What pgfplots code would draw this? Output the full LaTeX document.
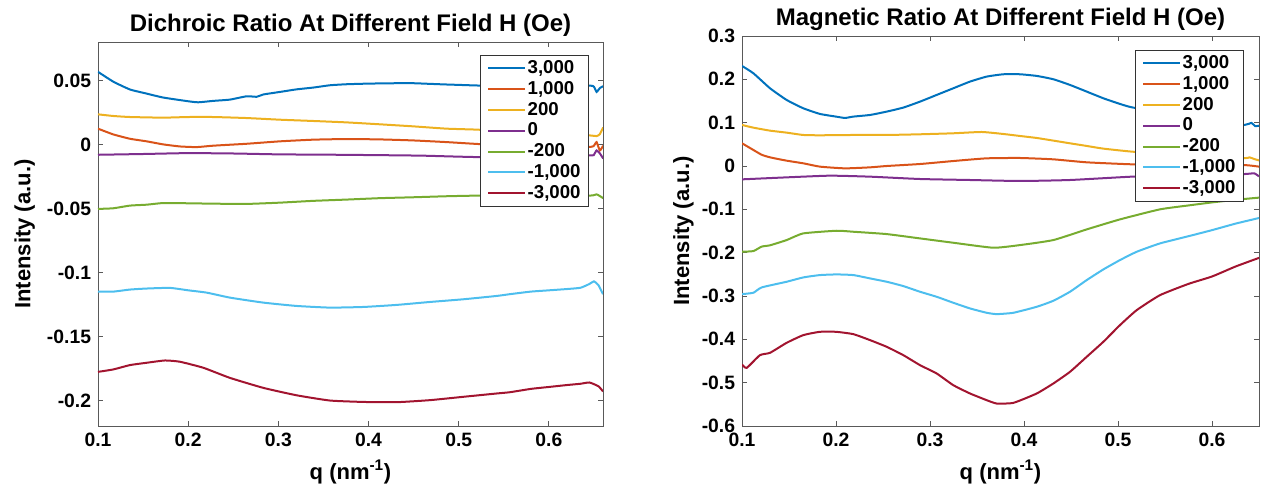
\documentclass[border=0pt]{standalone}
\usepackage{pgfplots}
\pgfplotsset{compat=1.18}
\usepackage{fontspec}
\setmainfont{Liberation Sans}
\definecolor{mB}{rgb}{0,0.447,0.741}
\definecolor{mO}{rgb}{0.85,0.325,0.098}
\definecolor{mY}{rgb}{0.929,0.694,0.125}
\definecolor{mP}{rgb}{0.494,0.184,0.556}
\definecolor{mG}{rgb}{0.466,0.674,0.188}
\definecolor{mC}{rgb}{0.301,0.745,0.933}
\definecolor{mR}{rgb}{0.635,0.078,0.184}
\pgfplotsset{
 mystyle/.style={
  scale only axis,
  axis line style={black!65, line width=0.6pt},
  tick style={black!65, line width=0.6pt},
  major tick length=3.75pt,
  tick align=inside,
  ticklabel style={font=\fontsize{14.5}{16}\selectfont\bfseries},
  xticklabel style={anchor=north, inner sep=0pt, yshift=-5pt},
  yticklabel style={anchor=east, inner sep=0pt, xshift=-5pt},
  label style={font=\fontsize{16.5}{19}\selectfont\bfseries},
  title style={font=\fontsize{18}{21}\selectfont\bfseries, at={(0.5,1)}, anchor=base, inner sep=0pt},
  xlabel style={at={(0.5,0)}, anchor=base, inner sep=0pt, yshift=-40pt},
  xtick={0.1,0.2,0.3,0.4,0.5,0.6},
  xticklabels={0.1,0.2,0.3,0.4,0.5,0.6},
  xlabel={q (nm\textsuperscript{-1})},
  ylabel={Intensity (a.u.)},
  every axis plot/.append style={line width=1.5pt, mark=none, smooth, tension=0.3},
  legend cell align=left,
  legend image code/.code={\draw[#1, line width=1.5pt] (0pt,0pt) -- (28pt,0pt);},
  legend style={font=\fontsize{14}{16}\selectfont\bfseries, draw=black!80, line width=0.6pt, anchor=north east, row sep=0pt, inner xsep=5pt, inner ysep=2pt, nodes={inner sep=1pt, text height=10.5pt, text depth=3.1pt}},
 }
}
\begin{document}
\begin{tikzpicture}
\useasboundingbox (-73.5pt,-51pt) rectangle (874.5pt,319.5pt);
\begin{axis}[mystyle,
  at={(0pt,0pt)}, anchor=south west, width=378.75pt, height=288pt,
  xmin=0.1, xmax=0.66, ymin=-0.22, ymax=0.08,
  ytick={-0.2,-0.15,-0.1,-0.05,0,0.05},
  yticklabels={-0.2,-0.15,-0.1,-0.05,0,0.05},
  title={Dichroic Ratio At Different Field H (Oe)},
  title style={yshift=2pt},
  ylabel style={at={(0,0.5)}, anchor=center, yshift=55pt},
  legend style={at={(1,1)}, xshift=-10.5pt, yshift=-9.75pt},
]
\addplot[mB] coordinates {(0.1000,0.0567) (0.1170,0.0490) (0.1355,0.0429) (0.1539,0.0397) (0.1724,0.0366) (0.2001,0.0337) (0.2112,0.0329) (0.2278,0.0340) (0.2463,0.0350) (0.2648,0.0376) (0.2760,0.0372) (0.2833,0.0390) (0.3018,0.0410) (0.3202,0.0430) (0.3387,0.0444) (0.3572,0.0462) (0.3757,0.0470) (0.4001,0.0475) (0.4311,0.0478) (0.4496,0.0478) (0.4681,0.0473) (0.4865,0.0468) (0.4999,0.0465) (0.5217,0.0460) (0.55,0.0458) (0.58,0.0457) (0.61,0.0458) (0.6455,0.0460) (0.6500,0.0450) (0.6529,0.0410) (0.6565,0.0440) (0.6602,0.0455)};
\addplot[mO] coordinates {(0.1,0.0123) (0.117,0.0078) (0.1355,0.0044) (0.1539,0.0024) (0.1724,0.0000) (0.1909,-0.0016) (0.2094,-0.0021) (0.2278,-0.0010) (0.2648,0.0005) (0.3018,0.0024) (0.3387,0.0037) (0.3757,0.0042) (0.4126,0.0039) (0.4496,0.0031) (0.4865,0.0018) (0.5217,0.0003) (0.55,-0.0005) (0.58,-0.001) (0.61,-0.0015) (0.6455,-0.0020) (0.6500,-0.0010) (0.6529,0.0018) (0.6565,-0.0047) (0.6602,-0.0010)};
\addplot[mY] coordinates {(0.1,0.0235) (0.117,0.0222) (0.1355,0.0214) (0.1724,0.0209) (0.2001,0.0214) (0.2278,0.0214) (0.2648,0.0206) (0.3018,0.0193) (0.3387,0.0183) (0.3757,0.0172) (0.4126,0.0157) (0.4496,0.0141) (0.4865,0.0123) (0.5217,0.0115) (0.55,0.010) (0.58,0.009) (0.61,0.008) (0.6455,0.0070) (0.6529,0.0065) (0.6565,0.0080) (0.6602,0.0133)};
\addplot[mP] coordinates {(0.1,-0.0081) (0.15,-0.0075) (0.2001,-0.0068) (0.25,-0.0071) (0.3018,-0.0078) (0.35,-0.0080) (0.4126,-0.0084) (0.46,-0.0088) (0.5217,-0.0099) (0.58,-0.0092) (0.6455,-0.0086) (0.65,-0.0080) (0.6529,-0.0047) (0.6565,-0.0070) (0.6602,-0.0110)};
\addplot[mG] coordinates {(0.1,-0.0504) (0.117,-0.0499) (0.1355,-0.0478) (0.1539,-0.0471) (0.1724,-0.0458) (0.2001,-0.0460) (0.2278,-0.0463) (0.2648,-0.0465) (0.3018,-0.0455) (0.3387,-0.0441) (0.3757,-0.0431) (0.4126,-0.0420) (0.4496,-0.0413) (0.4865,-0.0405) (0.5217,-0.0400) (0.58,-0.0398) (0.6455,-0.0400) (0.6529,-0.0390) (0.6602,-0.0420)};
\addplot[mC] coordinates {(0.1,-0.1150) (0.117,-0.1150) (0.1355,-0.1134) (0.1539,-0.1126) (0.1798,-0.1121) (0.2001,-0.1140) (0.2205,-0.1158) (0.2463,-0.1197) (0.2833,-0.1236) (0.3202,-0.1262) (0.3572,-0.1275) (0.3942,-0.1270) (0.4311,-0.1254) (0.4681,-0.1231) (0.5050,-0.1210) (0.5420,-0.1184) (0.5568,-0.1170) (0.58,-0.1150) (0.60,-0.1140) (0.62,-0.1130) (0.635,-0.1120) (0.645,-0.1090) (0.65,-0.1070) (0.655,-0.1100) (0.66,-0.1170)};
\addplot[mR] coordinates {(0.1,-0.1777) (0.117,-0.1758) (0.1355,-0.1724) (0.1539,-0.1706) (0.1743,-0.1688) (0.1909,-0.1698) (0.2168,-0.1745) (0.2463,-0.1824) (0.2833,-0.1902) (0.3202,-0.1960) (0.3572,-0.2001) (0.3942,-0.2012) (0.4311,-0.2014) (0.4681,-0.1998) (0.5050,-0.1972) (0.5420,-0.1946) (0.5568,-0.1936) (0.58,-0.1910) (0.60,-0.1895) (0.62,-0.1880) (0.635,-0.1870) (0.645,-0.1860) (0.655,-0.1890) (0.66,-0.1930)};
\legend{3{,}000,1{,}000,200,0,-200,-1{,}000,-3{,}000}
\end{axis}
\begin{axis}[mystyle,
  at={(483pt,0pt)}, anchor=south west, width=387.75pt, height=292.5pt,
  xmin=0.1, xmax=0.65, ymin=-0.6, ymax=0.3,
  ytick={-0.6,-0.5,-0.4,-0.3,-0.2,-0.1,0,0.1,0.2,0.3},
  yticklabels={-0.6,-0.5,-0.4,-0.3,-0.2,-0.1,0,0.1,0.2,0.3},
  title={Magnetic Ratio At Different Field H (Oe)},
  title style={yshift=2pt},
  ylabel style={at={(0,0.5)}, anchor=center, yshift=44pt},
  legend style={at={(1,1)}, xshift=-11.25pt, yshift=-10.5pt},
]
\addplot[mB] coordinates {(0.1,0.2309) (0.1121,0.2140) (0.1298,0.1794) (0.1475,0.1524) (0.1652,0.1332) (0.1830,0.1201) (0.2000,0.1140) (0.2096,0.1109) (0.2184,0.1140) (0.2362,0.1178) (0.2539,0.1255) (0.2716,0.1348) (0.2894,0.1486) (0.3071,0.1640) (0.3248,0.1794) (0.3426,0.1948) (0.3603,0.2063) (0.3780,0.2117) (0.3957,0.2117) (0.4135,0.2079) (0.4312,0.2002) (0.4489,0.1871) (0.4667,0.1717) (0.4844,0.1563) (0.5021,0.1432) (0.5145,0.1355) (0.55,0.122) (0.58,0.110) (0.61,0.100) (0.635,0.095) (0.642,0.0994) (0.646,0.092) (0.65,0.093)};
\addplot[mO] coordinates {(0.1,0.0524) (0.1121,0.0370) (0.1209,0.0260) (0.1298,0.0200) (0.1475,0.0123) (0.1652,0.0062) (0.1830,-0.0015) (0.2096,-0.0054) (0.2362,-0.0031) (0.2539,0.0000) (0.2894,0.0046) (0.3248,0.0115) (0.3603,0.0177) (0.3957,0.0185) (0.4312,0.0154) (0.4667,0.0085) (0.5145,0.0039) (0.55,0.003) (0.60,0.002) (0.635,0.002) (0.645,0.000) (0.65,-0.0015)};
\addplot[mY] coordinates {(0.1,0.0947) (0.1121,0.0885) (0.1298,0.0816) (0.1475,0.0770) (0.1652,0.0716) (0.1830,0.0709) (0.2184,0.0716) (0.2539,0.0716) (0.2894,0.0732) (0.3248,0.0755) (0.3550,0.0785) (0.3780,0.0739) (0.3957,0.0693) (0.4135,0.0647) (0.4312,0.0586) (0.4489,0.0524) (0.4667,0.0463) (0.4844,0.0401) (0.5145,0.0332) (0.55,0.028) (0.60,0.022) (0.635,0.018) (0.640,0.020) (0.645,0.016) (0.65,0.013)};
\addplot[mP] coordinates {(0.1,-0.0308) (0.1475,-0.0262) (0.1936,-0.0223) (0.2362,-0.0246) (0.2894,-0.0300) (0.3426,-0.0323) (0.3957,-0.0346) (0.4489,-0.0323) (0.5145,-0.0246) (0.55,-0.023) (0.60,-0.021) (0.635,-0.0185) (0.645,-0.017) (0.65,-0.024)};
\addplot[mG] coordinates {(0.1,-0.1979) (0.1121,-0.1963) (0.1209,-0.1860) (0.1298,-0.1830) (0.1475,-0.1709) (0.1652,-0.1555) (0.2007,-0.1494) (0.2184,-0.1517) (0.2539,-0.1571) (0.2894,-0.1671) (0.3248,-0.1771) (0.3674,-0.1886) (0.3957,-0.1825) (0.4312,-0.1709) (0.4667,-0.1463) (0.5021,-0.1232) (0.5447,-0.1000) (0.575,-0.091) (0.60,-0.084) (0.625,-0.078) (0.65,-0.073)};
\addplot[mC] coordinates {(0.1,-0.2956) (0.1121,-0.2925) (0.1209,-0.2802) (0.1475,-0.2671) (0.1652,-0.2571) (0.1830,-0.2517) (0.2007,-0.2502) (0.2184,-0.2517) (0.2362,-0.2594) (0.2539,-0.2671) (0.2716,-0.2771) (0.2894,-0.2902) (0.3071,-0.3018) (0.3248,-0.3156) (0.3426,-0.3287) (0.3603,-0.3387) (0.3709,-0.3418) (0.3887,-0.3387) (0.4135,-0.3249) (0.4312,-0.3110) (0.4489,-0.2902) (0.4667,-0.2633) (0.4844,-0.2387) (0.5021,-0.2171) (0.5199,-0.1979) (0.5447,-0.1786) (0.575,-0.162) (0.60,-0.148) (0.625,-0.133) (0.65,-0.120)};
\addplot[mR] coordinates {(0.1,-0.4580) (0.1050,-0.4658) (0.1191,-0.4365) (0.1298,-0.4311) (0.1475,-0.4080) (0.1652,-0.3903) (0.1830,-0.3826) (0.2000,-0.3826) (0.2184,-0.3880) (0.2362,-0.4018) (0.2539,-0.4172) (0.2716,-0.4365) (0.2894,-0.4596) (0.3071,-0.4788) (0.3248,-0.5058) (0.3426,-0.5250) (0.3603,-0.5404) (0.3709,-0.5481) (0.3887,-0.5466) (0.4135,-0.5250) (0.4312,-0.5019) (0.4489,-0.4750) (0.4667,-0.4403) (0.4844,-0.4057) (0.5021,-0.3672) (0.5199,-0.3326) (0.5447,-0.2980) (0.575,-0.272) (0.60,-0.255) (0.625,-0.232) (0.65,-0.212)};
\legend{3{,}000,1{,}000,200,0,-200,-1{,}000,-3{,}000}
\end{axis}
\end{tikzpicture}
\end{document}
